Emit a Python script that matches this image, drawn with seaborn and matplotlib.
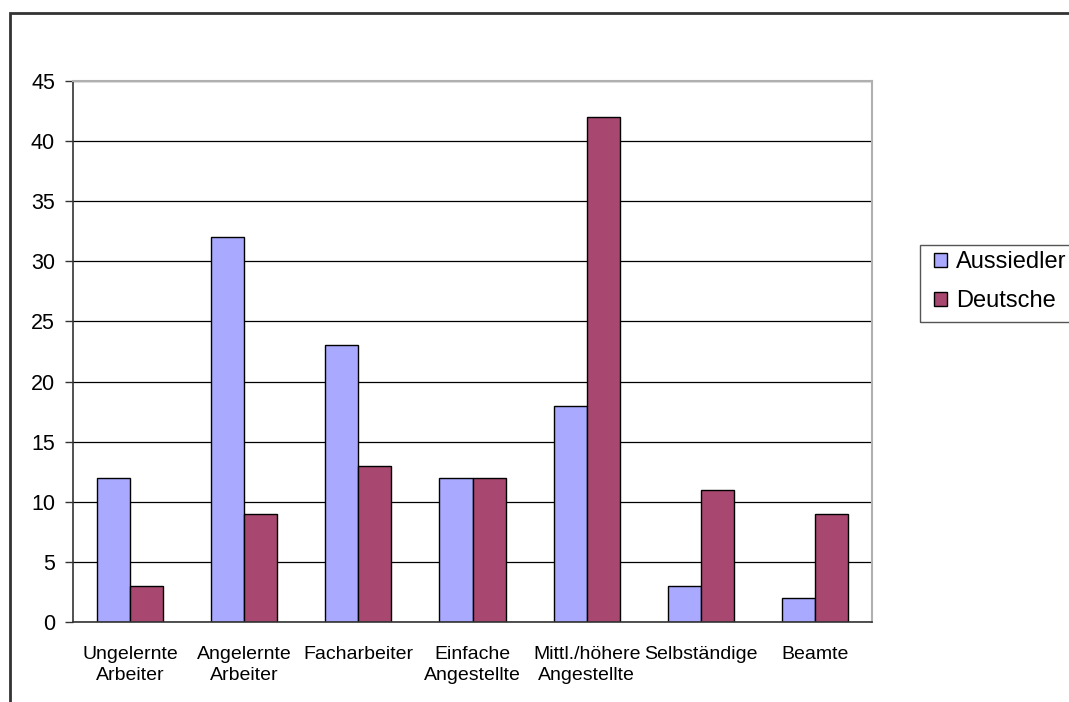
import matplotlib
matplotlib.use("Agg")
import matplotlib.pyplot as plt
import seaborn as sns
import pandas as pd
from matplotlib.patches import Rectangle

categories = ["Ungelernte\nArbeiter", "Angelernte\nArbeiter", "Facharbeiter",
              "Einfache\nAngestellte", "Mittl./höhere\nAngestellte", "Selbständige", "Beamte"]
series_names = ["Aussiedler", "Deutsche"]
aussiedler = [12, 32, 23, 12, 18, 3, 2]
deutsche = [3, 9, 13, 12, 42, 11, 9]
yticks = [0, 5, 10, 15, 20, 25, 30, 35, 40, 45]
colors = ["#A9A9FF", "#A8476F"]

df = pd.DataFrame({
    "cat": categories * 2,
    "series": [series_names[0]] * len(categories) + [series_names[1]] * len(categories),
    "value": aussiedler + deutsche,
})

sns.set_style("white")
plt.rcParams["font.family"] = ["Liberation Sans", "DejaVu Sans"]
plt.rcParams["text.color"] = "black"
plt.rcParams["xtick.color"] = "black"
plt.rcParams["ytick.color"] = "black"

W, H = 1069, 702
fig = plt.figure(figsize=(W / 100, H / 100), dpi=100)
ax = fig.add_axes([73 / W, 1 - 622 / H, (872 - 73) / W, (622 - 81) / H])

sns.barplot(data=df, x="cat", y="value", hue="series", palette=colors,
            width=0.58, edgecolor="black", linewidth=1.0, ax=ax, legend=False,
            saturation=1)

ax.set_ylim(0, 45)
ax.set_xlim(-0.5, len(categories) - 0.5)
ax.set_yticks(yticks)
ax.set_yticklabels([str(v) for v in yticks], fontsize=15.5)
ax.yaxis.grid(True, color="black", linewidth=0.9)
ax.set_axisbelow(True)

ax.set_xticks(range(len(categories)))
ax.set_xticklabels(categories, fontsize=14, linespacing=1.35)
ax.set_xticks([i - 0.5 for i in range(len(categories) + 1)], minor=True)
ax.tick_params(axis="x", which="major", length=0, pad=17, labelcolor="black")
ax.tick_params(axis="x", which="minor", length=6, width=1, color="#333333", direction="out")
ax.tick_params(axis="y", which="major", length=6, width=1, color="#333333", direction="out",
               pad=7, left=True, labelcolor="black")
ax.set_xlabel("")
ax.set_ylabel("")

for side in ["left", "bottom"]:
    ax.spines[side].set_color("#333333")
    ax.spines[side].set_linewidth(1.2)
for side in ["top", "right"]:
    ax.spines[side].set_visible(True)
    ax.spines[side].set_color("#b0b0b0")
    ax.spines[side].set_linewidth(1.5)

# outer chart border (cut off at right and bottom)
fig.patches.append(Rectangle((10 / W, -0.1), 1.2, 1 - 12.5 / H + 0.1,
                             transform=fig.transFigure, fill=False,
                             edgecolor="#333333", linewidth=2))

# legend frame (cut off at right)
fig.patches.append(Rectangle((920 / W, 1 - 322 / H), 200 / W, 77 / H,
                             transform=fig.transFigure, fill=False,
                             edgecolor="#555555", linewidth=1))

handles = [Rectangle((0, 0), 1, 1, facecolor=c, edgecolor="black", linewidth=1) for c in colors]
leg = fig.legend(handles, series_names, loc="upper left",
                 bbox_to_anchor=(934 / W, 1 - 251 / H), fontsize=17,
                 frameon=False, handlelength=0.55, handleheight=0.55,
                 handletextpad=0.4, borderpad=0, labelspacing=0.72, borderaxespad=0)

fig.savefig("out.png", dpi=100)
